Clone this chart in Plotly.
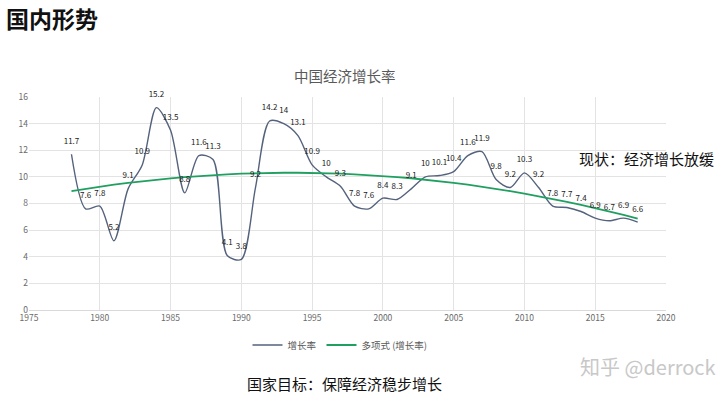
import numpy as np
import plotly.graph_objects as go

years = list(range(1978, 2019))
growth = [11.7, 7.6, 7.8, 5.2, 9.1, 10.9, 15.2, 13.5, 8.8, 11.6, 11.3, 4.1, 3.8, 9.2,
          14.2, 14, 13.1, 10.9, 10, 9.3, 7.8, 7.6, 8.4, 8.3, 9.1, 10, 10.1, 10.4,
          11.6, 11.9, 9.8, 9.2, 10.3, 9.2, 7.8, 7.7, 7.4, 6.9, 6.7, 6.9, 6.6]
x_ticks = [1975, 1980, 1985, 1990, 1995, 2000, 2005, 2010, 2015, 2020]
y_ticks = [0, 2, 4, 6, 8, 10, 12, 14, 16]

# Excel polynomial (order 2) trendline of the series
coef = np.polyfit(np.array(years, dtype=float), np.array(growth), 2)
trend = np.polyval(coef, np.array(years, dtype=float))

CJK = "Noto Sans CJK SC"
W, H = 720, 395
L, R, T, B = 29, 54, 97, 85
PW, PH = W - L - R, H - T - B


def px(x):
    return (x - L) / PW


def py(y):
    return (H - B - y) / PH


fig = go.Figure()
fig.add_trace(go.Scatter(
    x=years, y=growth, mode="lines", name="增长率",
    line=dict(color="#54627d", width=1.4, shape="spline", smoothing=0.8),
))
fig.add_trace(go.Scatter(
    x=years, y=trend, mode="lines", name="多项式 (增长率)",
    line=dict(color="#1fa060", width=1.8),
))
# data labels of the growth series
fig.add_trace(go.Scatter(
    x=years, y=growth, mode="markers+text", showlegend=False, hoverinfo="skip",
    marker=dict(size=12, opacity=0),
    text=[str(v) for v in growth],
    textposition="top center", cliponaxis=False,
    textfont=dict(size=8, color="#1a1a1a", family=CJK),
))

fig.update_layout(
    width=W, height=H,
    margin=dict(l=L, r=R, t=T, b=B),
    paper_bgcolor="white", plot_bgcolor="white",
    font=dict(family=CJK, color="#595959"),
    showlegend=True,
    legend=dict(orientation="h", x=px(340), xanchor="center", y=py(345), yanchor="middle",
                font=dict(size=9.5, color="#595959", family=CJK),
                bgcolor="rgba(0,0,0,0)", itemwidth=30, tracegroupgap=0),
    xaxis=dict(range=[1975, 2020], tickvals=x_ticks, showgrid=True, gridcolor="#e3e3e3",
               gridwidth=1, zeroline=False, showline=True, linecolor="#d9d9d9",
               tickfont=dict(size=8.5, color="#6a6a6a"), ticks="", ticklen=0),
    yaxis=dict(range=[0, 16], tickvals=y_ticks, showgrid=True, gridcolor="#e3e3e3",
               gridwidth=1, zeroline=False, showline=False,
               tickfont=dict(size=8.5, color="#6a6a6a"), ticks=""),
    annotations=[
        dict(text="<b>国内形势</b>", x=px(4), y=py(18), xref="paper", yref="paper",
             xanchor="left", yanchor="middle", showarrow=False,
             font=dict(size=23, color="#111111", family=CJK)),
        dict(text="中国经济增长率", x=px(345), y=py(75), xref="paper", yref="paper",
             xanchor="center", yanchor="middle", showarrow=False,
             font=dict(size=14.5, color="#595959", family=CJK)),
        dict(text="现状：经济增长放缓", x=px(577), y=py(158), xref="paper", yref="paper",
             xanchor="left", yanchor="middle", showarrow=False,
             font=dict(size=15, color="#111111", family=CJK)),
        dict(text="国家目标：保障经济稳步增长", x=px(344), y=py(383), xref="paper", yref="paper",
             xanchor="center", yanchor="middle", showarrow=False,
             font=dict(size=15, color="#111111", family=CJK)),
        dict(text="知乎 @derrock", x=px(648), y=py(366), xref="paper", yref="paper",
             xanchor="center", yanchor="middle", showarrow=False,
             font=dict(size=20, color="#c8c8c8", family=CJK)),
    ],
)

fig.write_html("out.html", config={"displayModeBar": False},
               post_script="document.body.style.margin='0';")
